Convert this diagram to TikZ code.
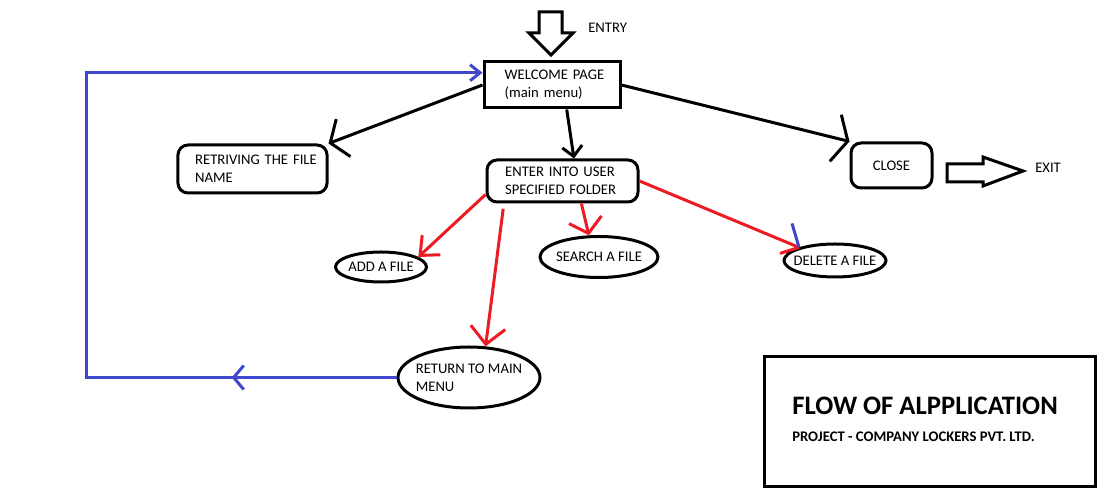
\documentclass[tikz,border=0pt]{standalone}
\usepackage{fontspec}
\setmainfont{Carlito}
\usetikzlibrary{arrows.meta,shapes.geometric,decorations.markings}
\definecolor{pred}{RGB}{237,28,36}
\definecolor{pblue}{RGB}{63,72,204}
\begin{document}
\begin{tikzpicture}[x=0.75pt,y=-0.75pt,
  txt/.style={font=\fontsize{11}{13.5}\selectfont, text=black},
  boxnode/.style={draw, line width=2.25pt, txt, inner ysep=0pt, align=left},
  ell/.style={draw, ellipse, line width=2.25pt, inner sep=0pt},
  blk/.style={black, line width=2.25pt},
  rd/.style={pred, line width=2.25pt},
  bl/.style={pblue, line width=2.25pt},
  blockarrow/.style={draw=black, fill=white, line width=2.25pt, line join=miter},
]
\fill[white] (0,0) rectangle (1108,498);
\useasboundingbox (0,0) rectangle (1108,498);

% entry block arrow
\draw[blockarrow] (539,12) -- (562,12) -- (562,33) -- (573,33) -- (551,55) -- (529,33) -- (539,33) -- cycle;
\node[txt, anchor=base west, inner sep=0pt] (entry) at (588,33) {ENTRY};

% boxes
\node[boxnode, minimum width=102pt, minimum height=34.5pt, text width=71pt, inner xsep=15.5pt] (welcome) at (552,85) {\mbox{WELCOME PAGE}\\(main menu)};
\node[boxnode, rounded corners=7.5pt, minimum width=111.75pt, minimum height=36pt, text width=86pt, inner xsep=12.9pt] (retr) at (252.5,169) {\mbox{RETRIVING THE FILE}\\NAME};
\node[boxnode, rounded corners=7.5pt, minimum width=113.25pt, minimum height=31.5pt, text width=86pt, inner xsep=13.6pt] (enter) at (562.5,181) {\mbox{ENTER INTO USER}\\\mbox{SPECIFIED FOLDER}};
\node[boxnode, rounded corners=7.5pt, minimum width=60.75pt, minimum height=33.75pt, align=center] (close) at (891.5,165.5) {CLOSE};

% exit block arrow
\draw[blockarrow] (947,164) -- (983,164) -- (983,157) -- (1023,171) -- (983,186) -- (983,182) -- (947,182) -- cycle;
\node[txt, anchor=base west, inner sep=0pt] (exit) at (1035,173) {EXIT};

% ellipses
\node[ell, minimum width=68.25pt, minimum height=22.5pt, label={[txt]center:ADD A FILE}] (add) at (381,267) {};
\node[ell, minimum width=88.5pt, minimum height=30.75pt, label={[txt]center:SEARCH A FILE}] (search) at (599,257) {};
\node[ell, minimum width=76.5pt, minimum height=24.75pt, label={[txt]center:DELETE A FILE}] (delete) at (835,260.5) {};
\node[ell, minimum width=106.5pt, minimum height=45.75pt, label={[txt, align=left]center:RETURN TO MAIN\\MENU\phantom{ TO MAIN}}] (return) at (469,377.5) {};

% black connectors
\draw[blk, -{Straight Barb[length=10.5pt,width=30pt]}] (welcome.west) -- (retr.north east);
\draw[blk, -{Straight Barb[length=7.5pt,width=15pt]}] (welcome.-59) -- (enter.63);
\draw[blk, -{Straight Barb[length=9.5pt,width=36pt]}] (welcome.east) -- (close.north west);

% red connectors
\draw[rd, -{Straight Barb[length=11.5pt,width=20pt]}] (enter.190) -- (add.15);
\draw[rd, -{Straight Barb[length=10.5pt,width=25pt]}] (enter.-50) -- (search.115);
\draw[rd, shorten <=4pt, -{Straight Barb[length=12.75pt,width=26pt]}] (enter.201) -- (return.62);
\draw[rd] (enter.east) -- (delete.160) coordinate (dtip);
\draw[rd] (dtip) -- ++(-19,6);
\draw[bl] (dtip) -- ++(-7,-24);

% blue return loop
\draw[bl, -{Straight Barb[length=7.5pt,width=12pt]},
  postaction={decorate, decoration={markings, mark=at position 0.163 with {\arrow{Straight Barb[length=7.5pt,width=18pt]}}}}]
  (return.west) -- ++(-310,0) |- (welcome.170);

% title box
\node[draw, line width=2.25pt, minimum width=248.25pt, minimum height=97.5pt] (titlebox) at (929.5,422) {};
\node[anchor=base west, inner sep=0pt, font=\fontsize{20}{24}\selectfont\bfseries] (title) at (792,414.5) {FLOW OF ALPPLICATION};
\node[anchor=base west, inner sep=0pt, font=\fontsize{11}{13}\selectfont\bfseries] (subtitle) at (792,441.5) {PROJECT - COMPANY LOCKERS PVT. LTD.};
\end{tikzpicture}
\end{document}
